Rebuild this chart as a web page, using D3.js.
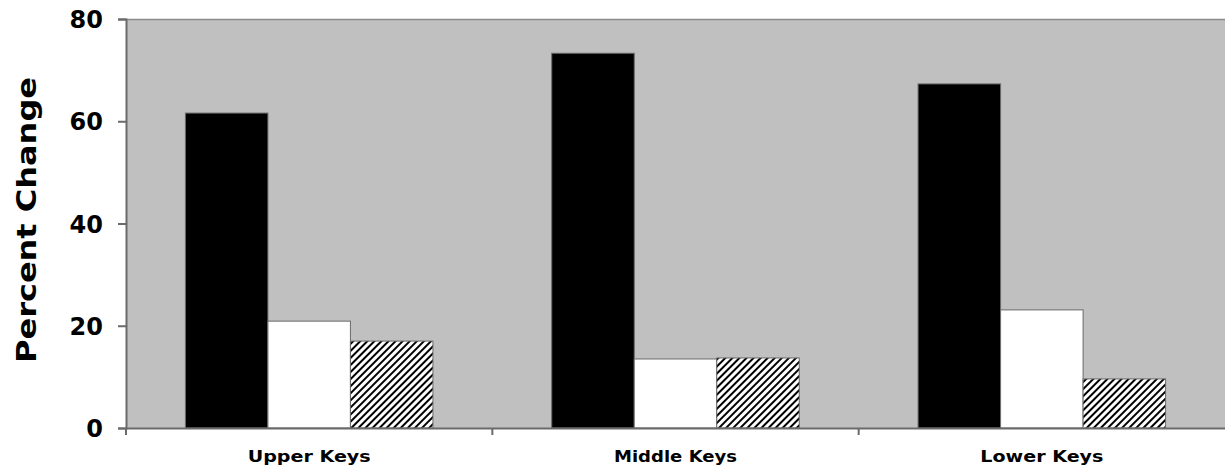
<!DOCTYPE html>
<html><head><meta charset="utf-8">
<script src="https://cdn.jsdelivr.net/npm/d3@7"></script>
<style>body{margin:0;background:#fff}svg{display:block}</style>
</head><body><svg id="c" width="1225" height="469"></svg>
<script>
const categories = ["Upper Keys", "Middle Keys", "Lower Keys"];
const seriesNames = ["A", "B", "C"];
const seriesA = [61.6, 73.3, 67.3];
const seriesB = [20.9, 13.5, 23.1];
const seriesC = [17.0, 13.7, 9.6];
const yTicks = [0, 20, 40, 60, 80];

const svg = d3.select("#c");
const m = {left:126, right:0, top:19, bottom:41};
const W = 1225, H = 469;
const x0 = d3.scaleBand().domain(categories).range([m.left, W - m.right]).paddingInner(0).paddingOuter(0);
const y = d3.scaleLinear().domain([0, 80]).range([H - m.bottom, m.top]);

const defs = svg.append("defs");
const pat = defs.append("pattern").attr("id","hatch").attr("patternUnits","userSpaceOnUse")
  .attr("width",5).attr("height",5).attr("patternTransform","rotate(45)");
pat.append("rect").attr("width",5).attr("height",5).attr("fill","#fff");
pat.append("rect").attr("x",0).attr("y",0).attr("width",2).attr("height",5).attr("fill","#000");

svg.append("rect").attr("x", m.left).attr("y", m.top).attr("width", W - m.left - m.right)
  .attr("height", y(0) - m.top).attr("fill", "#c0c0c0");
svg.append("line").attr("x1", m.left).attr("x2", W).attr("y1", m.top+0.5).attr("y2", m.top+0.5)
  .attr("stroke","#8a8a8a").attr("stroke-width",1.5);

const inner = d3.scaleBand().domain(seriesNames).range([0, x0.bandwidth()]).paddingOuter(0.72).paddingInner(0);
const fills = {A:"#000", B:"#fff", C:"url(#hatch)"};
const rows = categories.map((c,i)=>({c, vals:[["A",seriesA[i]],["B",seriesB[i]],["C",seriesC[i]]]}));
const g = svg.append("g");
rows.forEach(r=>{
  g.selectAll(null).data(r.vals).enter().append("rect")
    .attr("x", d=>x0(r.c)+inner(d[0]))
    .attr("width", inner.bandwidth())
    .attr("y", d=>y(d[1]))
    .attr("height", d=>y(0)-y(d[1]))
    .attr("fill", d=>fills[d[0]])
    .attr("stroke", "#6a6a6a").attr("stroke-width", 1);
});

// axes
const yAxis = d3.axisLeft(y).tickValues(yTicks).tickSize(8).tickPadding(6);
const ya = svg.append("g").attr("transform",`translate(${m.left},0)`).call(yAxis);
ya.select(".domain").attr("stroke","#6a6a6a").attr("stroke-width",2);
ya.selectAll(".tick line").attr("stroke","#6a6a6a").attr("stroke-width",2);
ya.selectAll("text").attr("font-family","DejaVu Sans").attr("font-weight","bold")
  .attr("font-size",24).attr("fill","#000").attr("x",-23).attr("dy","0.36em");

const xAxis = d3.axisBottom(x0).tickSize(0).tickPadding(20);
const xa = svg.append("g").attr("transform",`translate(0,${y(0)})`).call(xAxis);
xa.select(".domain").attr("stroke","#6a6a6a").attr("stroke-width",2);
xa.selectAll("text").attr("font-family","DejaVu Sans").attr("font-weight","bold")
  .attr("font-size",16).attr("fill","#000").attr("y",34).attr("dy",0)
  .attr("textLength",123).attr("lengthAdjust","spacingAndGlyphs");
// category separator ticks
xa.selectAll(null).data(categories).enter().append("line")
  .attr("x1", d=>x0(d)).attr("x2", d=>x0(d)).attr("y1",0).attr("y2",7)
  .attr("stroke","#6a6a6a").attr("stroke-width",2);

svg.append("text").attr("transform",`translate(36,220) rotate(-90)`)
  .attr("text-anchor","middle").attr("font-family","DejaVu Sans").attr("font-weight","bold")
  .attr("font-size",26).attr("fill","#000")
  .attr("textLength",286).attr("lengthAdjust","spacingAndGlyphs").text("Percent Change");
</script></body></html>
